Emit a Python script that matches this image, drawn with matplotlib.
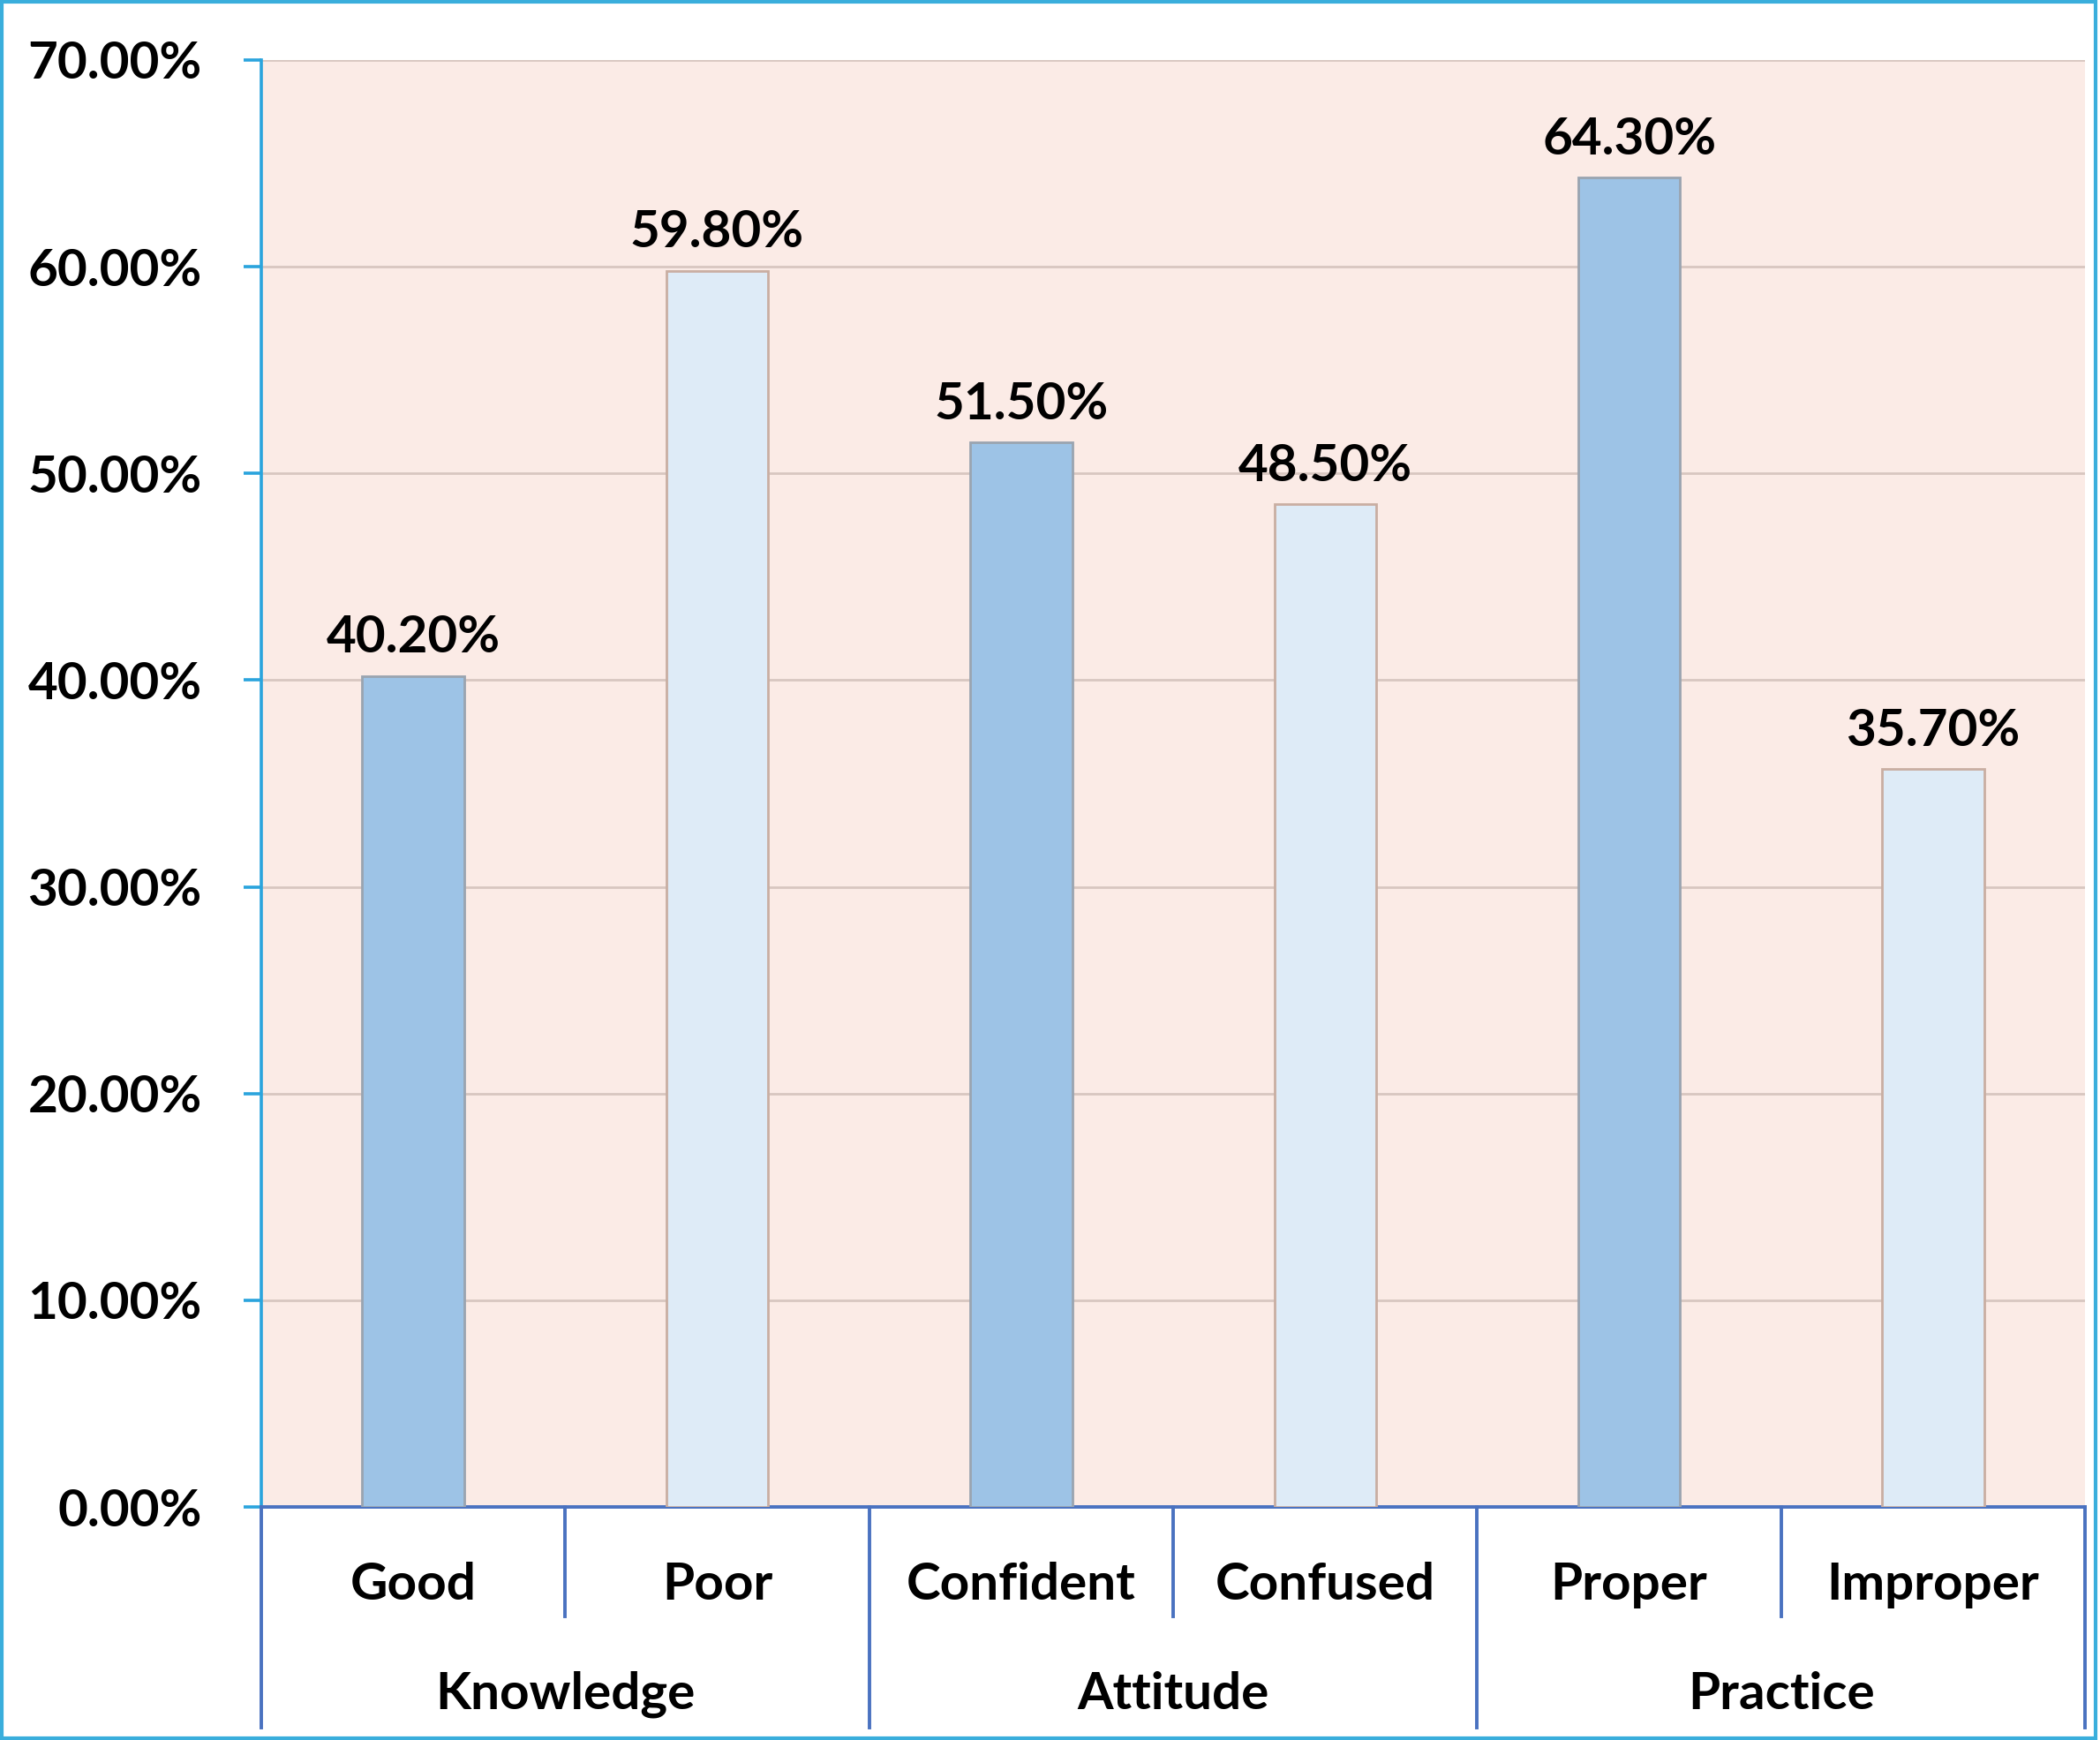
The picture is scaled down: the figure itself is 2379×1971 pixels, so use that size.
import matplotlib.pyplot as plt
import matplotlib.transforms as mtransforms
from matplotlib.lines import Line2D
from matplotlib.patches import Rectangle
import numpy as np

# data
groups = ["Knowledge", "Attitude", "Practice"]
categories = ["Good", "Poor", "Confident", "Confused", "Proper", "Improper"]
values = [40.2, 59.8, 51.5, 48.5, 64.3, 35.7]
yticks = [0, 10, 20, 30, 40, 50, 60, 70]

plt.rcParams['font.family'] = ['Lato', 'DejaVu Sans']
plt.rcParams['font.weight'] = 'bold'

dark = "#9DC3E6"
light = "#DEEBF7"
fs = 42

fig = plt.figure(figsize=(23.79, 19.71), dpi=100)
ax = fig.add_axes([0.1244, 0.1339, 0.8685, 0.8316])
ax.set_facecolor("#FBEBE6")

x = np.arange(len(categories))
fc = [dark if i % 2 == 0 else light for i in range(len(categories))]
ec = ["#9AA4B0" if i % 2 == 0 else "#C9AEA2" for i in range(len(categories))]
ax.bar(x, values, width=0.335, color=fc, edgecolor=ec, linewidth=2, zorder=3)

for xi, v in zip(x, values):
    ax.annotate("%.2f%%" % v, (xi, v), xytext=(0, 19), textcoords="offset points",
                ha="center", va="baseline", fontsize=fs, fontweight="bold")

ax.set_xlim(-0.5, len(categories) - 0.5)
ax.set_ylim(0, 70)
ax.set_yticks(yticks)
ax.set_yticklabels(["%.2f%%" % t for t in yticks], fontsize=fs, fontweight="bold")
ax.set_xticks([])
ax.yaxis.grid(True, color="#D8C6C0", linewidth=2, zorder=0)
ax.set_axisbelow(True)

for s in ["top", "right"]:
    ax.spines[s].set_visible(False)
ax.spines["left"].set_color("#2AA4DD")
ax.spines["left"].set_linewidth(2.6)
ax.spines["bottom"].set_color("#4A72C0")
ax.spines["bottom"].set_linewidth(2.8)
ax.tick_params(axis="y", direction="out", length=14.5, width=2.6, color="#2AA4DD", pad=34)

# multi-level category axis
trans = mtransforms.blended_transform_factory(ax.transData, ax.transAxes)
for b in np.arange(-0.5, len(categories), 1.0):
    low = -0.1525 if int(b + 0.5) % 2 == 0 else -0.0757
    ax.add_line(Line2D([b, b], [0, low], transform=trans, color="#4A72C0",
                       linewidth=2.8, clip_on=False))
for xi, c in zip(x, categories):
    ax.text(xi, -0.054, c, transform=trans, ha="center", va="center",
            fontsize=fs, fontweight="bold")
for gi, g in enumerate(groups):
    ax.text(2 * gi + 0.5, -0.1295, g, transform=trans, ha="center", va="center",
            fontsize=fs, fontweight="bold")

# outer frame
fig.patches.append(Rectangle((0.001, 0.001), 0.997, 0.998, transform=fig.transFigure,
                             fill=False, edgecolor="#3AAEDC", linewidth=3))

fig.savefig("out.png", dpi=100)
